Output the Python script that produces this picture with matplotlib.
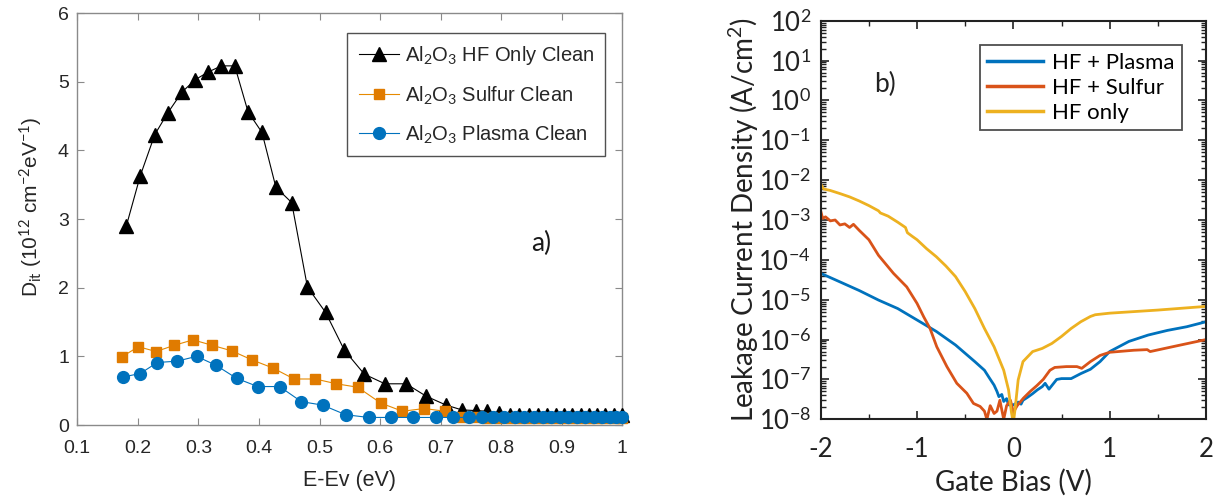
import numpy as np
import matplotlib
matplotlib.use('Agg')
import matplotlib.pyplot as plt
from matplotlib.ticker import FixedLocator, FuncFormatter, LogLocator, NullFormatter, MultipleLocator

plt.rcParams['mathtext.fontset'] = 'custom'
plt.rcParams['mathtext.rm'] = 'Lato'
plt.rcParams['mathtext.it'] = 'Lato:italic'
plt.rcParams['mathtext.bf'] = 'Lato:bold'
plt.rcParams['axes.unicode_minus'] = False

# panel a) interface trap density
hf_x = [0.181, 0.204, 0.228, 0.249, 0.273, 0.295, 0.316, 0.338, 0.360, 0.382,
        0.405, 0.428, 0.454, 0.480, 0.510, 0.541, 0.574, 0.608, 0.643, 0.676,
        0.709, 0.735, 0.758, 0.777, 0.796, 0.814, 0.830, 0.846, 0.861, 0.876,
        0.890, 0.903, 0.917, 0.931, 0.945, 0.958, 0.972, 0.986, 1.000]
hf_dit = [2.90, 3.63, 4.23, 4.54, 4.85, 5.03, 5.14, 5.23, 5.23, 4.56,
          4.26, 3.46, 3.24, 2.01, 1.64, 1.09, 0.74, 0.60, 0.60, 0.42,
          0.29, 0.22, 0.21, 0.20, 0.18, 0.15, 0.15, 0.14, 0.14, 0.14,
          0.14, 0.14, 0.14, 0.14, 0.14, 0.14, 0.14, 0.14, 0.14]

sulfur_x = [0.173, 0.201, 0.230, 0.260, 0.291, 0.323, 0.355, 0.388, 0.423, 0.458,
            0.493, 0.528, 0.563, 0.601, 0.637, 0.673, 0.707, 0.735, 0.758, 0.777,
            0.796, 0.814, 0.830, 0.846, 0.861, 0.876, 0.890, 0.903, 0.917, 0.931,
            0.945, 0.958, 0.972, 0.986, 1.000]
sulfur_dit = [0.99, 1.14, 1.07, 1.16, 1.24, 1.16, 1.08, 0.95, 0.83, 0.67,
              0.67, 0.60, 0.55, 0.32, 0.20, 0.24, 0.20, 0.12, 0.11, 0.10,
              0.10, 0.10, 0.10, 0.10, 0.10, 0.10, 0.10, 0.10, 0.10, 0.10,
              0.10, 0.10, 0.10, 0.10, 0.10]

plasma_x = [0.176, 0.204, 0.232, 0.265, 0.297, 0.329, 0.363, 0.398, 0.434, 0.470,
            0.505, 0.543, 0.581, 0.618, 0.655, 0.692, 0.721, 0.747, 0.768, 0.787,
            0.805, 0.822, 0.838, 0.854, 0.869, 0.883, 0.897, 0.911, 0.925, 0.939,
            0.953, 0.966, 0.979, 0.990, 1.000]
plasma_dit = [0.70, 0.75, 0.91, 0.93, 1.00, 0.87, 0.68, 0.56, 0.56, 0.34,
              0.29, 0.15, 0.11, 0.11, 0.11, 0.11, 0.11, 0.11, 0.11, 0.11,
              0.11, 0.11, 0.11, 0.11, 0.11, 0.11, 0.11, 0.11, 0.11, 0.11,
              0.11, 0.11, 0.11, 0.11, 0.11]

x_ticks = [0.1, 0.2, 0.3, 0.4, 0.5, 0.6, 0.7, 0.8, 0.9, 1.0]
x_tick_labels = ['0.1', '0.2', '0.3', '0.4', '0.5', '0.6', '0.7', '0.8', '0.9', '1']

# panel b) leakage current density vs gate bias
hf_only_v = [-2.00, -1.97, -1.90, -1.80, -1.70, -1.60, -1.50, -1.40, -1.38, -1.30,
             -1.20, -1.12, -1.10, -1.05, -1.00, -0.90, -0.80, -0.70, -0.60, -0.50,
             -0.40, -0.30, -0.20, -0.10, -0.05, -0.02, 0.00, 0.02, 0.05, 0.10,
             0.20, 0.30, 0.40, 0.50, 0.60, 0.70, 0.80, 0.85, 1.00, 1.50, 2.00]
hf_only_j = [8.0e-3, 6.0e-3, 5.5e-3, 4.6e-3, 3.8e-3, 3.0e-3, 2.3e-3, 1.7e-3, 1.5e-3, 1.25e-3,
             8.8e-4, 6.5e-4, 4.8e-4, 3.9e-4, 3.2e-4, 1.9e-4, 1.2e-4, 7.0e-5, 3.8e-5, 1.6e-5,
             6.0e-6, 1.9e-6, 6.6e-7, 1.7e-7, 5.5e-8, 1.5e-8, 8.0e-9, 2.0e-8, 9.7e-8, 2.8e-7,
             5.0e-7, 6.0e-7, 8.0e-7, 1.2e-6, 1.9e-6, 2.8e-6, 3.8e-6, 4.2e-6, 4.6e-6, 5.5e-6, 6.8e-6]

plasma_v = [-2.00, -1.80, -1.60, -1.40, -1.20, -1.00, -0.80, -0.60, -0.40, -0.30,
            -0.25, -0.20, -0.17, -0.15, -0.12, -0.10, -0.07, -0.05, 0.00, 0.05,
            0.08, 0.10, 0.15, 0.20, 0.25, 0.30, 0.33, 0.37, 0.45, 0.50,
            0.60, 0.70, 0.80, 0.90, 1.00, 1.20, 1.40, 1.60, 1.80, 2.00]
plasma_j = [4.6e-5, 2.8e-5, 1.7e-5, 9.8e-6, 6.0e-6, 3.1e-6, 1.6e-6, 7.3e-7, 2.8e-7, 1.7e-7,
            1.1e-7, 7.2e-8, 5.0e-8, 3.7e-8, 4.2e-8, 2.8e-8, 3.3e-8, 2.3e-8, 2.3e-8, 2.7e-8,
            2.4e-8, 3.0e-8, 3.6e-8, 4.4e-8, 5.5e-8, 6.6e-8, 8.0e-8, 5.7e-8, 1.0e-7, 1.05e-7,
            1.05e-7, 1.4e-7, 1.8e-7, 2.8e-7, 5.0e-7, 9.0e-7, 1.3e-6, 1.7e-6, 2.1e-6, 2.8e-6]

sulfur_v = [-2.00, -1.98, -1.95, -1.90, -1.85, -1.80, -1.75, -1.70, -1.66, -1.60,
            -1.50, -1.40, -1.245, -1.107, -1.00, -0.93, -0.865, -0.795, -0.69, -0.587,
            -0.483, -0.414, -0.345, -0.30, -0.275, -0.24, -0.20, -0.17, -0.14, -0.10,
            -0.07, -0.03, 0.00, 0.04, 0.105, 0.175, 0.244, 0.31, 0.38, 0.43,
            0.55, 0.66, 0.71, 0.80, 0.90, 1.00, 1.25, 1.39, 1.42, 1.70, 2.00]
sulfur_j = [1.7e-3, 1.1e-3, 1.2e-3, 9.5e-4, 1.0e-3, 7.5e-4, 8.0e-4, 6.5e-4, 7.8e-4, 5.5e-4,
            3.2e-4, 1.3e-4, 4.6e-5, 2.1e-5, 8.1e-6, 3.7e-6, 1.9e-6, 6.6e-7, 2.1e-7, 8.0e-8,
            4.5e-8, 2.5e-8, 2.1e-8, 1.6e-8, 1.0e-8, 2.2e-8, 1.4e-8, 1.6e-8, 3.0e-8, 1.0e-8,
            2.2e-8, 3.0e-8, 1.5e-8, 2.2e-8, 3.4e-8, 5.0e-8, 7.0e-8, 1.0e-7, 1.7e-7, 2.0e-7,
            2.1e-7, 2.1e-7, 1.9e-7, 2.8e-7, 4.0e-7, 4.8e-7, 5.4e-7, 5.6e-7, 5.0e-7, 7.0e-7, 1.0e-6]

W, H = 1217, 496
fig = plt.figure(figsize=(W / 100, H / 100), dpi=100)

# ---------- panel a ----------
ax1 = fig.add_axes([77.3 / W, 1 - 425 / H, 545 / W, 412 / H])
ax1.plot(hf_x, hf_dit, color='black', lw=0.8, marker='^', ms=9.5, mfc='black', mec='black',
         label='Al$_2$O$_3$ HF Only Clean', clip_on=False, zorder=3)
ax1.plot(sulfur_x, sulfur_dit, color='#e68a00', lw=0.8, marker='s', ms=6.5, mfc='#e07b00',
         mec='#e07b00', label='Al$_2$O$_3$ Sulfur Clean', clip_on=False, zorder=4)
ax1.plot(plasma_x, plasma_dit, color='#0072bd', lw=0.8, marker='o', ms=8.5, mfc='#0072bd',
         mec='#0072bd', label='Al$_2$O$_3$ Plasma Clean', clip_on=False, zorder=5)
ax1.set_xlim(0.1, 1.0)
ax1.set_ylim(0, 6)
ax1.xaxis.set_major_locator(FixedLocator(x_ticks))
ax1.set_xticklabels(x_tick_labels)
ax1.set_yticks([0, 1, 2, 3, 4, 5, 6])
for side in ['left', 'right', 'top', 'bottom']:
    ax1.spines[side].set_color('#8a8a8a')
    ax1.spines[side].set_linewidth(1.0)
ax1.tick_params(direction='in', top=True, right=True, length=5, width=0.8, color='#8a8a8a',
                labelsize=14, labelcolor='#262626', labelfontfamily='Liberation Sans')
ax1.tick_params(axis='x', pad=11)
ax1.tick_params(axis='y', pad=6)
ax1.set_xlabel('E-Ev (eV)', fontsize=15.5, color='#262626', family='Liberation Sans', labelpad=9)
ax1.set_ylabel('D$_{\\mathrm{it}}$ (10$^{12}$ cm$^{-2}$eV$^{-1}$)', fontsize=15, color='#262626',
               family='Liberation Sans')
ax1.yaxis.set_label_coords(-0.06, 0.53)
leg1 = ax1.legend(loc='upper right', bbox_to_anchor=(0.969, 0.952),
                  prop={'family': 'Liberation Sans', 'size': 14.5}, frameon=True, fancybox=False,
                  edgecolor='#262626', handlelength=2.0, handletextpad=0.3, labelspacing=0.85,
                  borderpad=0.55, borderaxespad=0)
leg1.get_frame().set_linewidth(1.0)
for t in leg1.get_texts():
    t.set_color('#262626')
ax1.text(0.852, 0.44, 'a)', transform=ax1.transAxes, fontsize=19, family='Lato',
         ha='center', va='center', color='#1a1a1a')

# ---------- panel b ----------
ax2 = fig.add_axes([820.7 / W, 1 - 419.3 / H, 385.3 / W, 398.6 / H])
ax2.plot(plasma_v, plasma_j, color='#0072bd', lw=2.0, label='HF + Plasma')
ax2.plot(sulfur_v, sulfur_j, color='#d95319', lw=2.0, label='HF + Sulfur')
ax2.plot(hf_only_v, hf_only_j, color='#edb120', lw=2.0, label='HF only')
ax2.set_yscale('log')
ax2.set_xlim(-2, 2)
ax2.set_ylim(1e-8, 1e2)
ax2.xaxis.set_major_locator(FixedLocator([-2, -1, 0, 1, 2]))
ax2.xaxis.set_minor_locator(MultipleLocator(0.5))
ax2.xaxis.set_major_formatter(FuncFormatter(lambda v, pos: f'{v:.0f}'))
ax2.yaxis.set_major_locator(LogLocator(base=10, numticks=20))
ax2.yaxis.set_minor_locator(LogLocator(base=10, subs=np.arange(2, 10), numticks=20))
ax2.yaxis.set_minor_formatter(NullFormatter())
ax2.yaxis.set_major_formatter(FuncFormatter(
    lambda v, pos: '10$^{%d}$' % int(round(np.log10(v)))))
for side in ['left', 'right', 'top', 'bottom']:
    ax2.spines[side].set_color('#222222')
    ax2.spines[side].set_linewidth(1.5)
ax2.tick_params(which='both', direction='in', top=True, right=True, color='#222222',
                labelsize=18.5, labelcolor='#222222', labelfontfamily='Lato')
ax2.tick_params(which='major', length=6, width=1.2)
ax2.tick_params(which='minor', length=3.5, width=1.0)
ax2.tick_params(axis='x', which='both', pad=13)
ax2.tick_params(axis='y', which='both', pad=7)
ax2.set_xlabel('Gate Bias (V)', fontsize=20, family='Lato', color='#222222', labelpad=5)
ax2.set_ylabel('Leakage Current Density (A/cm$^2$)', fontsize=20, family='Lato', color='#222222')
ax2.yaxis.set_label_coords(-0.155, 0.5)
leg2 = ax2.legend(loc='upper right', bbox_to_anchor=(0.938, 0.939), prop={'family': 'Lato', 'size': 16},
                  frameon=True, fancybox=False, edgecolor='#222222', handlelength=2.5,
                  handletextpad=0.4, labelspacing=0.22, borderpad=0.35, borderaxespad=0)
leg2.get_frame().set_linewidth(1.3)
for line in leg2.get_lines():
    line.set_linewidth(2.5)
ax2.text(0.167, 0.839, 'b)', transform=ax2.transAxes, fontsize=19, family='Lato',
         ha='center', va='center', color='#222222')

fig.savefig('out.png', dpi=100)
